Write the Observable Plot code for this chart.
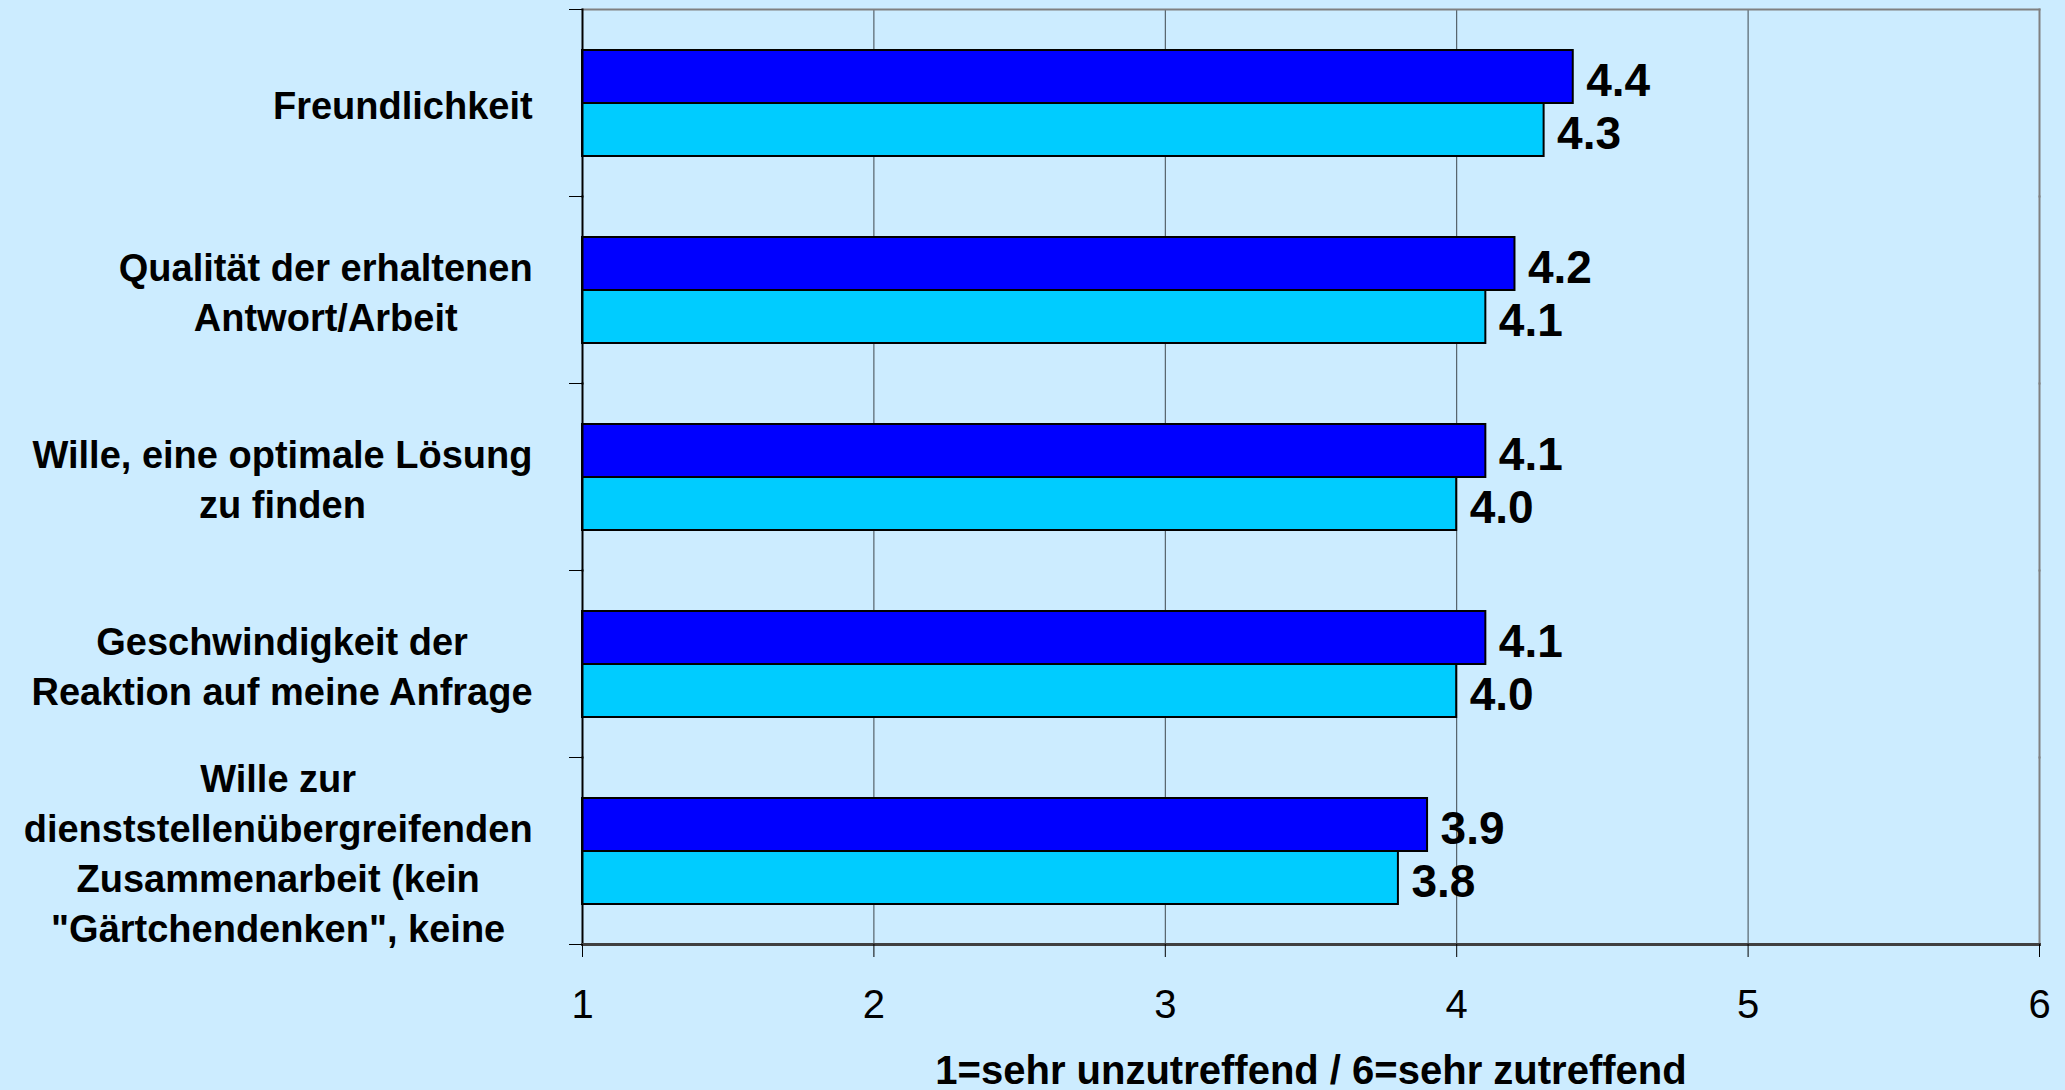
<!DOCTYPE html>
<html><head><meta charset="utf-8">
<script src="https://cdn.jsdelivr.net/npm/d3@7"></script>
<script src="https://cdn.jsdelivr.net/npm/@observablehq/plot@0.6"></script>
<style>html,body{margin:0;padding:0;background:#CCECFF;} #chart{width:2065px;height:1090px;}</style>
</head><body><div id="chart"></div>
<script>
const categories = [
  "Freundlichkeit",
  "Qualität der erhaltenen\nAntwort/Arbeit",
  "Wille, eine optimale Lösung\nzu finden",
  "Geschwindigkeit der\nReaktion auf meine Anfrage",
  "Wille zur\ndienststellenübergreifenden\nZusammenarbeit (kein\n\"Gärtchendenken\", keine"
];
const seriesNames = ["Reihe 1", "Reihe 2"];
const valuesSeries1 = [4.4, 4.2, 4.1, 4.1, 3.9];
const valuesSeries2 = [4.3, 4.1, 4.0, 4.0, 3.8];
const xTicks = [1, 2, 3, 4, 5, 6];
const gridTicks = [2, 3, 4, 5];
const xLabel = "1=sehr unzutreffend / 6=sehr zutreffend";
const seriesColors = ["#0000FF", "#00CCFF"];

const data = categories.flatMap((c, i) => [
  {category: c, series: seriesNames[0], value: valuesSeries1[i]},
  {category: c, series: seriesNames[1], value: valuesSeries2[i]}
]);

const W = 2065, H = 1090, mT = 9, mB = 146, mL = 582, mR = 26;
const step = (H - mT - mB) / categories.length;

const plot = Plot.plot({
  width: W, height: H, marginLeft: mL, marginRight: mR, marginTop: mT, marginBottom: mB,
  style: {background: "#CCECFF", fontFamily: "'Liberation Sans', Arial, Helvetica, sans-serif", color: "#000", overflow: "visible"},
  x: {domain: [1, 6]},
  fy: {domain: categories, paddingInner: 0, paddingOuter: 0},
  y: {domain: seriesNames, paddingInner: 0, paddingOuter: 0.75, axis: null},
  color: {domain: seriesNames, range: seriesColors},
  marks: [
    Plot.gridX(gridTicks, {stroke: "#000", strokeOpacity: 0.7, strokeWidth: 1}),
    Plot.frame({anchor: "top", facetAnchor: "top", stroke: "#808080", strokeWidth: 2}),
    Plot.frame({anchor: "right", stroke: "#808080", strokeWidth: 2}),
    Plot.barX(data, {fy: "category", y: "series", x1: 1, x2: "value", fill: "series", stroke: "#000", strokeWidth: 2}),
    Plot.text(data, {fy: "category", y: "series", x: "value", text: d => d.value.toFixed(1), textAnchor: "start", dx: 13, dy: 4, fontSize: 46, fontWeight: "bold", fill: "#000"}),
    Plot.frame({anchor: "left", stroke: "#000", strokeWidth: 2}),
    Plot.frame({anchor: "bottom", facetAnchor: "bottom", stroke: "#404040", strokeWidth: 3}),
    Plot.axisFy({anchor: "left", text: null, tickSize: 13, dy: -step / 2, label: null}),
    Plot.axisFy([categories[categories.length - 1]], {anchor: "left", text: null, tickSize: 13, dy: step / 2, label: null}),
    Plot.axisFy({anchor: "left", tickSize: 0, tickPadding: 50, fontSize: 38, fontWeight: "bold", lineHeight: 1.32, label: null}),
    Plot.axisX(xTicks, {anchor: "bottom", tickSize: 13, tickPadding: 32, fontSize: 40, tickFormat: d3.format("d"), label: xLabel, labelAnchor: "center", labelOffset: 139, labelArrow: "none"})
  ]
});

document.getElementById("chart").append(plot);

// center the lines of each category label within its right-aligned block
d3.select(plot).selectAll("g[aria-label='fy-axis tick label'] text").each(function() {
  const bb = this.getBBox();
  const cx = bb.x + bb.width / 2;
  const tspans = d3.select(this).selectAll("tspan");
  this.setAttribute("text-anchor", "middle");
  if (tspans.size() > 0) tspans.attr("x", cx);
  else this.setAttribute("x", cx);
});
// bold axis title
d3.select(plot).selectAll("text").filter(function() { return this.textContent === xLabel; })
  .attr("font-weight", "bold").attr("font-size", 40);
</script>
</body></html>
